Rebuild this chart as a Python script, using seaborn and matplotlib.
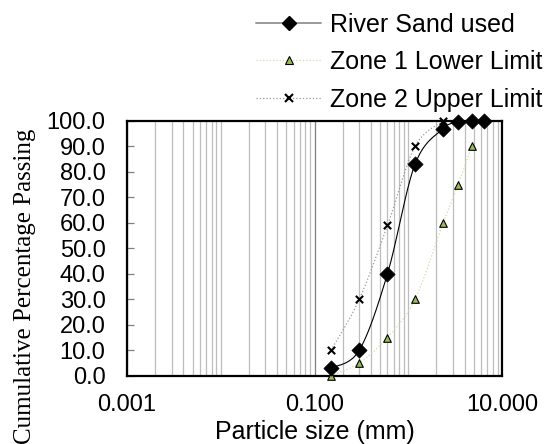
import numpy as np
import matplotlib
matplotlib.use("Agg")
import matplotlib.pyplot as plt
import matplotlib.ticker as mticker
from matplotlib.lines import Line2D
import seaborn as sns

# sieve sizes (mm) and percentage passing
sieve = [0.15, 0.3, 0.6, 1.18, 2.36, 3.4, 4.75, 6.4]
river_sand = [3, 10, 40, 83, 97, 99.5, 100, 100]
zone1_sieve = [0.15, 0.3, 0.6, 1.18, 2.36, 3.4, 4.75]
zone1_lower = [0, 5, 15, 30, 60, 75, 90]
zone2_sieve = [0.15, 0.3, 0.6, 1.18, 2.36]
zone2_upper = [10, 30, 59, 90, 100]

x_ticks = [0.001, 0.1, 10]
x_ticklabels = ["0.001", "0.100", "10.000"]
y_ticks = list(range(0, 101, 10))

sns.set_theme(style="white")
plt.rcParams["font.family"] = ["Liberation Sans", "DejaVu Sans"]
plt.rcParams["text.color"] = "black"
plt.rcParams["axes.labelcolor"] = "black"


def smooth(xs, ys, n=24):
    # excel-like smoothed line, done in screen-ish units (log x)
    u = np.log10(np.asarray(xs, float)) * 93.75
    v = np.asarray(ys, float) * 2.547
    p = np.column_stack([u, v])
    p = np.vstack([p[0], p, p[-1]])
    out = []
    t = np.linspace(0, 1, n)[:, None]
    for i in range(1, len(p) - 2):
        p0, p1, p2, p3 = p[i - 1], p[i], p[i + 1], p[i + 2]
        c1 = p1 + (p2 - p0) / 6
        c2 = p2 - (p3 - p1) / 6
        seg = ((1 - t) ** 3) * p1 + 3 * ((1 - t) ** 2) * t * c1 + 3 * (1 - t) * t ** 2 * c2 + t ** 3 * p2
        out.append(seg if i == 1 else seg[1:])
    out = np.vstack(out)
    return 10 ** (out[:, 0] / 93.75), out[:, 1] / 2.547


fig = plt.figure(figsize=(5.44, 4.44), dpi=100)
ax = fig.add_axes([0.2335, 0.1538, 0.6893, 0.5737])

sx, sy = smooth(zone1_sieve, zone1_lower)
sns.lineplot(x=sx, y=sy, ax=ax, estimator=None, sort=False, color="#d0dca8",
             lw=0.9, linestyle=":", zorder=3)
sx, sy = smooth(zone2_sieve, zone2_upper)
sns.lineplot(x=sx, y=sy, ax=ax, estimator=None, sort=False, color="#9a9a9a",
             lw=0.9, linestyle=":", zorder=3)
sx, sy = smooth(sieve, river_sand)
sns.lineplot(x=sx, y=sy, ax=ax, estimator=None, sort=False, color="black",
             lw=0.8, zorder=4)

sns.scatterplot(x=zone1_sieve, y=zone1_lower, ax=ax, marker="^", s=30,
                color="#9bbb59", edgecolor="black", linewidth=0.8, zorder=6, clip_on=False)
sns.scatterplot(x=zone2_sieve, y=zone2_upper, ax=ax, marker="x", s=28,
                color="black", linewidth=1.5, zorder=6, clip_on=False)
sns.scatterplot(x=sieve, y=river_sand, ax=ax, marker="D", s=60,
                color="black", edgecolor="black", linewidth=0.5, zorder=7, clip_on=False)

ax.set_xscale("log")
ax.set_xlim(0.001, 10)
ax.set_ylim(0, 100)
ax.xaxis.set_major_locator(mticker.FixedLocator(x_ticks))
ax.xaxis.set_major_formatter(mticker.FixedFormatter(x_ticklabels))
ax.xaxis.set_minor_locator(mticker.LogLocator(base=10, subs=np.arange(1, 10), numticks=50))
ax.xaxis.set_minor_formatter(mticker.NullFormatter())
ax.set_yticks(y_ticks)
ax.yaxis.set_major_formatter(mticker.FormatStrFormatter("%.1f"))

ax.grid(False)
ax.grid(True, axis="x", which="major", color="#7f7f7f", lw=0.9)
ax.grid(True, axis="x", which="minor", color="#bdbdbd", lw=0.9)
ax.set_axisbelow(True)

ax.tick_params(axis="x", which="both", length=0, pad=13, labelsize=17, labelcolor="black")
ax.tick_params(axis="y", which="major", direction="in", length=5, width=0.9,
               color="#808080", pad=15.5, labelsize=17, left=True, labelcolor="black")

for sp in ax.spines.values():
    sp.set_color("black")
    sp.set_linewidth(1.6)
    sp.set_zorder(5)

ax.set_xlabel("Particle size (mm)", fontsize=18, va="center")
ax.xaxis.set_label_coords(0.5, -0.221)
ax.set_ylabel("Cumulative Percentage Passing", fontsize=18, va="center",
              family=["Liberation Serif", "DejaVu Serif"])
ax.yaxis.set_label_coords(-0.272, 0.35)

handles = [
    Line2D([], [], color="#9a9a9a", lw=1.4, marker="D", markersize=7.5,
           markerfacecolor="black", markeredgecolor="black"),
    Line2D([], [], color="#d0dca8", lw=0.9, linestyle=":", marker="^", markersize=6,
           markerfacecolor="#9bbb59", markeredgecolor="black", markeredgewidth=0.8),
    Line2D([], [], color="#9a9a9a", lw=0.9, linestyle=":", marker="x", markersize=5.5,
           markeredgecolor="black", markeredgewidth=1.5),
]
labels = ["River Sand used", "Zone 1 Lower Limit", "Zone 2 Upper Limit"]
fig.legend(handles, labels, loc="upper left", bbox_to_anchor=(256 / 544, 1 - 13 / 444),
           frameon=False, fontsize=18, handlelength=2.6, handletextpad=0.36,
           labelspacing=0.53, borderpad=0, borderaxespad=0, labelcolor="black")

fig.savefig("out.png", dpi=100)
